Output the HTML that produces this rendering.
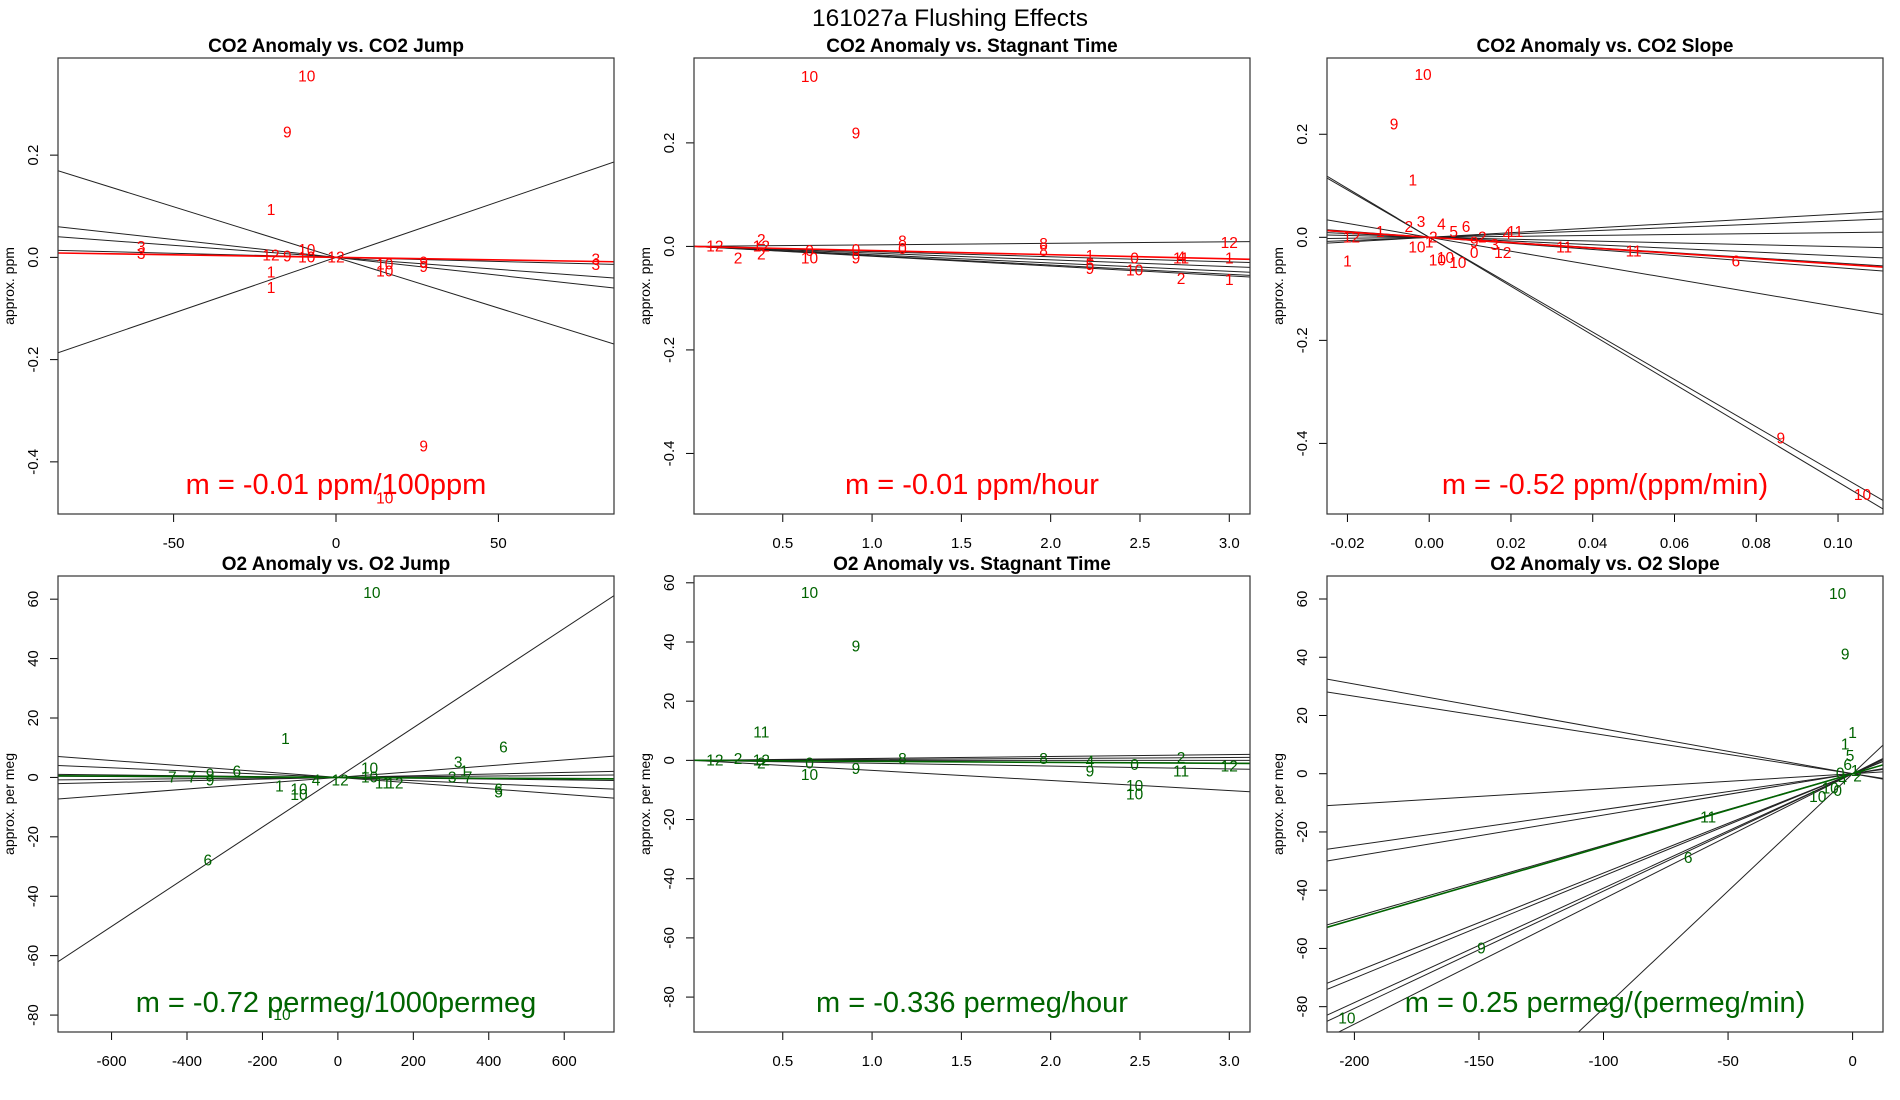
<!DOCTYPE html>
<html><head><meta charset="utf-8">
<style>
html,body{margin:0;padding:0;background:#fff;width:1900px;height:1100px;overflow:hidden;}
svg{display:block;font-family:"Liberation Sans",sans-serif;}
</style></head>
<body>
<svg id="chart" width="1900" height="1100" viewBox="0 0 1900 1100">
<text x="950" y="26" text-anchor="middle" font-size="24.5">161027a   Flushing Effects</text>
</svg>
<script>
// ---- Panel 1: CO2 Anomaly vs CO2 Jump
const p1Labels=["10","9","1","1","1","10","9","3","3","12","9","10","10","12","10","10","9","9","3","3"];
const p1X=[-9,-15,-20,-20,-20,15,27,-60,-60,-20,-15,-9,-9,0,15,15,27,27,80,80];
const p1Y=[0.354,0.244,0.093,-0.03,-0.06,-0.472,-0.37,0.02,0.007,0.004,0.002,0.014,0.0,0.0,-0.014,-0.028,-0.01,-0.019,-0.004,-0.015];
const p1Slopes=[0.00218,-0.00198,-0.0007,-0.00047,-0.00016];
const p1Fit=-0.0001;
// ---- Panel 2: CO2 Anomaly vs Stagnant Time
const p2Labels=["10","9","12","2","2","12","2","0","10","9","0","8","0","8","8","1","5","9","0","10","4","2","11","12","1","1"];
const p2X=[0.65,0.91,0.12,0.25,0.38,0.38,0.38,0.65,0.65,0.91,0.91,1.17,1.17,1.96,1.96,2.22,2.22,2.22,2.47,2.47,2.73,2.73,2.73,3.0,3.0,3.0];
const p2Y=[0.327,0.218,0.0,-0.023,0.012,0.0,-0.016,-0.009,-0.023,-0.023,-0.007,0.009,-0.005,0.005,-0.009,-0.019,-0.035,-0.044,-0.023,-0.047,-0.021,-0.063,-0.023,0.007,-0.023,-0.065];
const p2Slopes=[0.003,-0.01,-0.013,-0.016,-0.018,-0.019];
const p2Fit=-0.008;
// ---- Panel 3: CO2 Anomaly vs CO2 Slope
const p3Labels=["10","9","1","6","9","10","11","11","1","2","3","2","4","5","6","0","1","12","10","10","1","9","10","11","2","3","4","12","10"];
const p3X=[-0.0015,-0.0086,-0.004,0.075,0.086,0.106,0.033,0.05,-0.02,-0.005,-0.002,0.001,0.003,0.006,0.009,0.011,-0.012,-0.019,-0.003,0.004,0.0,0.011,0.007,0.021,0.013,0.016,0.019,0.018,0.002];
const p3Y=[0.315,0.219,0.11,-0.047,-0.39,-0.5,-0.02,-0.028,-0.047,0.02,0.03,0.0,0.025,0.01,0.02,-0.03,0.01,0.0,-0.02,-0.04,-0.01,-0.01,-0.05,0.01,0.0,-0.015,0.005,-0.03,-0.045];
const p3Slopes=[0.45,0.32,0.09,-0.18,-0.36,-0.5,-0.59,-1.35,-4.6,-4.75];
const p3Fit=-0.52;
// ---- Panel 4: O2 Anomaly vs O2 Jump
const p4Labels=["10","1","6","6","10","7","7","9","9","6","1","10","10","4","12","10","10","11","12","3","3","1","7","6","5"];
const p4X=[90,-139,439,-345,-148,-439,-387,-339,-339,-268,-155,-103,-103,-58,6,84,84,119,151,319,303,335,345,426,426];
const p4Y=[62,13,10,-28,-80,0,0,-1,1,2,-3,-6,-4,-1,-1,3,0,-2,-2,5,0,2,0,-4,-5];
const p4Slopes=[0.0836,0.0098,-0.0095,-0.0054,0.0028,-0.0014,0.0011,-0.0005];
const p4Fit=-0.00072;
// ---- Panel 5: O2 Anomaly vs Stagnant Time
const p5Labels=["10","9","11","12","2","12","2","0","10","9","8","8","4","9","0","10","10","2","11","12"];
const p5X=[0.65,0.91,0.38,0.12,0.25,0.38,0.38,0.65,0.65,0.91,1.17,1.96,2.22,2.22,2.47,2.47,2.47,2.73,2.73,3.0];
const p5Y=[56.6,38.5,9.4,0,0.5,0,-1,-1,-5,-3,0.4,0.4,-0.4,-3.7,-1.6,-8.6,-11.5,0.8,-3.7,-2];
const p5Slopes=[0.65,0.32,0,-0.32,-0.97,-3.4];
const p5Fit=-0.336;
// ---- Panel 6: O2 Anomaly vs O2 Slope
const p6Labels=["10","9","11","6","9","10","10","1","1","5","6","0","1","2","4","10","0"];
const p6X=[-6,-3,-58,-66,-149,-203,-14,0,-3,-1,-2,-5,1,2,-4,-9,-6];
const p6Y=[61.7,41,-15,-29,-60,-84,-8,14,10,6,3,0,1,-1,-2,-5,-6];
const p6Slopes=[-0.154,-0.133,0.052,0.123,0.142,0.246,0.341,0.351,0.393,0.403,0.43,0.806];
const p6Fit=0.25;

const NS="http://www.w3.org/2000/svg";
const svg=document.getElementById('chart');
function el(tag,attrs,parent){const e=document.createElementNS(NS,tag);for(const k in attrs)e.setAttribute(k,attrs[k]);(parent||svg).appendChild(e);return e;}

function panel(cfg){
  const L=cfg.left,T=cfg.top,W=556,H=456;
  const sx=v=>L+(v-cfg.xmin)/(cfg.xmax-cfg.xmin)*W;
  const sy=v=>T+(cfg.ymax-v)/(cfg.ymax-cfg.ymin)*H;
  const g=el('g',{});
  
  
  const cid='clip-'+cfg.name;
  const cp=el('clipPath',{id:cid},g);el('rect',{x:L,y:T,width:W,height:H},cp);
  const t=el('text',{x:L+W/2,y:T-6,'text-anchor':'middle','font-size':19,'font-weight':'bold'},g);
  t.textContent=cfg.title;
  
  
  cfg.xticks.forEach((v,i)=>{
    const x=sx(v);
    const ln=el('line',{x1:x,x2:x,y1:T+H,y2:T+H+8,stroke:'#000','stroke-width':1},g);
    
    
    const tx=el('text',{x:x,y:T+H+34,'text-anchor':'middle','font-size':15},g);
    tx.textContent=cfg.xtickLabels[i];
    
    
  });
  cfg.yticks.forEach((v,i)=>{
    const y=sy(v);
    const ln=el('line',{x1:L-8,x2:L,y1:y,y2:y,stroke:'#000','stroke-width':1},g);
    
    
    const tx=el('text',{x:L-20,y:y,'text-anchor':'middle','font-size':15,transform:`rotate(-90 ${L-20} ${y})`},g);
    tx.textContent=cfg.ytickLabels[i];
    
    
  });
  const yl=el('text',{x:L-44,y:T+H/2,'text-anchor':'middle','font-size':14,transform:`rotate(-90 ${L-44} ${T+H/2})`},g);
  yl.textContent=cfg.ylabel;
  
  
  const inner=el('g',{'clip-path':`url(#${cid})`},g);
  cfg.slopes.forEach(m=>{
    const ln=el('line',{x1:sx(cfg.xmin),y1:sy(m*cfg.xmin),x2:sx(cfg.xmax),y2:sy(m*cfg.xmax),stroke:'#222','stroke-width':1},inner);
    
    
  });
  const fl=el('line',{x1:sx(cfg.xmin),y1:sy(cfg.fit*cfg.xmin),x2:sx(cfg.xmax),y2:sy(cfg.fit*cfg.xmax),stroke:cfg.color,'stroke-width':1.6},inner);
  
  
  cfg.labels.forEach((lab,i)=>{
    const tx=el('text',{x:sx(cfg.xs[i]),y:sy(cfg.ys[i])+5,'text-anchor':'middle','font-size':15.5,fill:cfg.color},inner);
    tx.textContent=lab;
    
    
  });
  const mt=el('text',{x:L+W/2,y:T+H-20,'text-anchor':'middle','font-size':29,fill:cfg.color},g);
  mt.textContent=cfg.mtext;
  
  
  el('rect',{x:L,y:T,width:W,height:H,fill:'none',stroke:'#333','stroke-width':1.2},g);
}
const stag=[0.5,1.0,1.5,2.0,2.5,3.0], stagL=["0.5","1.0","1.5","2.0","2.5","3.0"];
const oy=[60,40,20,0,-20,-40,-60,-80], oyL=["60","40","20","0","-20","-40","-60","-80"];
const cy=[0.2,0,-0.2,-0.4], cyL=["0.2","0.0","-0.2","-0.4"];
panel({name:'panel-co2-jump',left:58,top:58,xmin:-85.6,xmax:85.6,ymin:-0.502,ymax:0.39,title:'CO2 Anomaly vs. CO2 Jump',ylabel:'approx. ppm',xticks:[-50,0,50],xtickLabels:["-50","0","50"],yticks:cy,ytickLabels:cyL,labels:p1Labels,xs:p1X,ys:p1Y,slopes:p1Slopes,fit:p1Fit,color:'#ff0000',mtext:'m = -0.01 ppm/100ppm'});
panel({name:'panel-co2-stagnant',left:694,top:58,xmin:0.003,xmax:3.116,ymin:-0.517,ymax:0.364,title:'CO2 Anomaly vs. Stagnant Time',ylabel:'approx. ppm',xticks:stag,xtickLabels:stagL,yticks:cy,ytickLabels:cyL,labels:p2Labels,xs:p2X,ys:p2Y,slopes:p2Slopes,fit:p2Fit,color:'#ff0000',mtext:'m = -0.01 ppm/hour'});
panel({name:'panel-co2-slope',left:1327,top:58,xmin:-0.025,xmax:0.111,ymin:-0.537,ymax:0.348,title:'CO2 Anomaly vs. CO2 Slope',ylabel:'approx. ppm',xticks:[-0.02,0,0.02,0.04,0.06,0.08,0.1],xtickLabels:["-0.02","0.00","0.02","0.04","0.06","0.08","0.10"],yticks:cy,ytickLabels:cyL,labels:p3Labels,xs:p3X,ys:p3Y,slopes:p3Slopes,fit:p3Fit,color:'#ff0000',mtext:'m = -0.52 ppm/(ppm/min)'});
panel({name:'panel-o2-jump',left:58,top:576,xmin:-742,xmax:732,ymin:-85.7,ymax:67.8,title:'O2 Anomaly vs. O2 Jump',ylabel:'approx. per meg',xticks:[-600,-400,-200,0,200,400,600],xtickLabels:["-600","-400","-200","0","200","400","600"],yticks:oy,ytickLabels:oyL,labels:p4Labels,xs:p4X,ys:p4Y,slopes:p4Slopes,fit:p4Fit,color:'#006400',mtext:'m = -0.72 permeg/1000permeg'});
panel({name:'panel-o2-stagnant',left:694,top:576,xmin:0.003,xmax:3.116,ymin:-91.8,ymax:62.3,title:'O2 Anomaly vs. Stagnant Time',ylabel:'approx. per meg',xticks:stag,xtickLabels:stagL,yticks:oy,ytickLabels:oyL,labels:p5Labels,xs:p5X,ys:p5Y,slopes:p5Slopes,fit:p5Fit,color:'#006400',mtext:'m = -0.336 permeg/hour'});
panel({name:'panel-o2-slope',left:1327,top:576,xmin:-211,xmax:12.2,ymin:-88.7,ymax:67.9,title:'O2 Anomaly vs. O2 Slope',ylabel:'approx. per meg',xticks:[-200,-150,-100,-50,0],xtickLabels:["-200","-150","-100","-50","0"],yticks:oy,ytickLabels:oyL,labels:p6Labels,xs:p6X,ys:p6Y,slopes:p6Slopes,fit:p6Fit,color:'#006400',mtext:'m = 0.25 permeg/(permeg/min)'});
</script>
</body></html>
